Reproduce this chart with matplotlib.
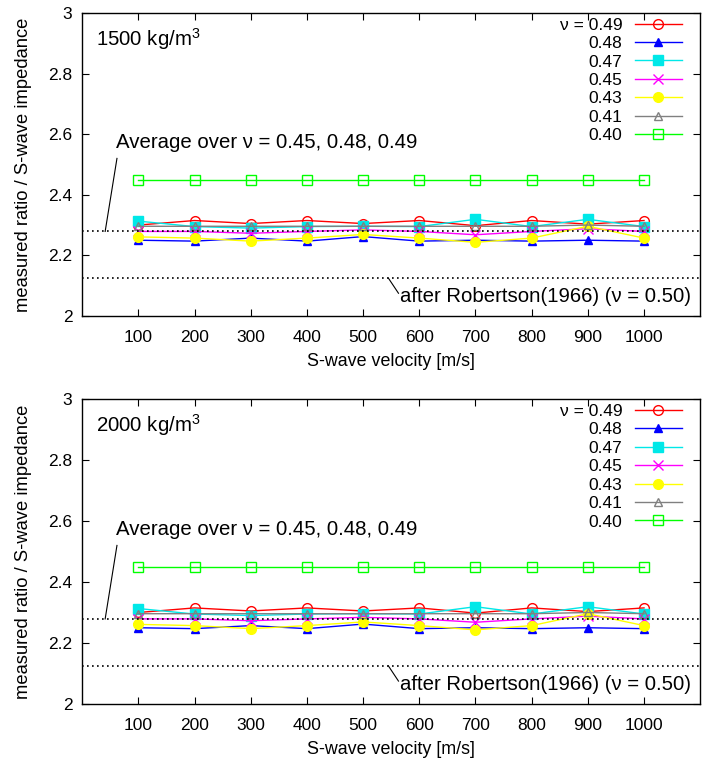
import matplotlib.pyplot as plt
import numpy as np

plt.rcParams['font.family'] = ['Liberation Sans', 'DejaVu Sans']
plt.rcParams['mathtext.fontset'] = 'custom'
plt.rcParams['mathtext.rm'] = 'Liberation Sans'
plt.rcParams['mathtext.default'] = 'regular'

# S-wave velocity [m/s]
vs = [100, 200, 300, 400, 500, 600, 700, 800, 900, 1000]

# measured ratio / S-wave impedance for each Poisson ratio
nu049 = [2.300, 2.315, 2.305, 2.315, 2.305, 2.315, 2.298, 2.315, 2.303, 2.315]
nu048 = [2.250, 2.247, 2.257, 2.247, 2.262, 2.247, 2.250, 2.247, 2.250, 2.247]
nu047 = [2.313, 2.295, 2.290, 2.295, 2.296, 2.295, 2.319, 2.295, 2.319, 2.295]
nu045 = [2.279, 2.279, 2.273, 2.279, 2.284, 2.279, 2.268, 2.279, 2.288, 2.279]
nu043 = [2.261, 2.257, 2.247, 2.257, 2.269, 2.257, 2.243, 2.257, 2.296, 2.257]
nu041 = [2.296, 2.296, 2.296, 2.296, 2.296, 2.296, 2.296, 2.296, 2.300, 2.296]
nu040 = [2.45, 2.45, 2.45, 2.45, 2.45, 2.45, 2.45, 2.45, 2.45, 2.45]

labels = ['\u03bd = 0.49', '0.48', '0.47', '0.45', '0.43', '0.41', '0.40']
densities = ['1500 kg/m$^3$', '2000 kg/m$^3$']

avg_level = 2.279
robertson_level = 2.125

series = [nu049, nu048, nu047, nu045, nu043, nu041, nu040]
styles = [
    dict(color='#ff0000', marker='o', mfc='none', ms=7),
    dict(color='#0000ff', marker='^', mfc='#0000ff', ms=6),
    dict(color='#00e8e8', marker='s', mfc='#00e8e8', ms=7),
    dict(color='#ff00ff', marker='x', ms=7),
    dict(color='#ffff00', marker='o', mfc='#ffff00', ms=7),
    dict(color='#808080', marker='^', mfc='none', ms=6),
    dict(color='#00ff00', marker='s', mfc='none', ms=7),
]

fs = 12.5      # ticks / legend
fs_txt = 14.7  # annotations inside the plot
fig = plt.figure(figsize=(7.08, 7.66), dpi=100)
axes = [fig.add_axes([0.116, 0.5875, 0.873, 0.3956]),
        fig.add_axes([0.116, 0.081, 0.873, 0.398])]

for ax, dens in zip(axes, densities):
    for y, lab, st in zip(series, labels, styles):
        ax.plot(vs, y, lw=1.0, label=lab, mew=1.0, **st)
    ax.axhline(avg_level, color='black', lw=1.2, ls=(0, (1, 2)))
    ax.axhline(robertson_level, color='black', lw=1.2, ls=(0, (1, 2)))

    ax.plot([41, 62], [avg_level, 2.52], color='black', lw=0.8)
    ax.text(60, 2.573, 'Average over \u03bd = 0.45, 0.48, 0.49', fontsize=fs_txt, va='center', ha='left')
    ax.plot([545, 563], [robertson_level, 2.075], color='black', lw=0.8)
    ax.text(566, 2.063, 'after Robertson(1966) (\u03bd = 0.50)', fontsize=fs_txt, va='center', ha='left')
    ax.text(25, 2.914, dens, fontsize=fs_txt, va='center', ha='left')

    ax.set_xlim(0, 1100)
    ax.set_ylim(2, 3)
    ax.set_xticks(vs)
    ax.set_yticks([2, 2.2, 2.4, 2.6, 2.8, 3])
    ax.set_yticklabels(['2', '2.2', '2.4', '2.6', '2.8', '3'])
    ax.tick_params(direction='in', length=5, width=0.8, top=True, right=True,
                   labelsize=fs, pad=7)
    ax.tick_params(axis='x', pad=10)
    for sp in ax.spines.values():
        sp.set_linewidth(1.0)
    ax.set_xlabel('S-wave velocity [m/s]', fontsize=12.9, labelpad=6)
    ax.set_ylabel('measured ratio / S-wave impedance', fontsize=13.2, labelpad=12)
    ax.legend(loc='upper right', bbox_to_anchor=(0.971, 0.985), frameon=False,
              markerfirst=False, fontsize=fs, handlelength=2.75, handletextpad=0.7,
              labelspacing=0.19, borderpad=0, borderaxespad=0)

fig.savefig('out.png', dpi=100)
